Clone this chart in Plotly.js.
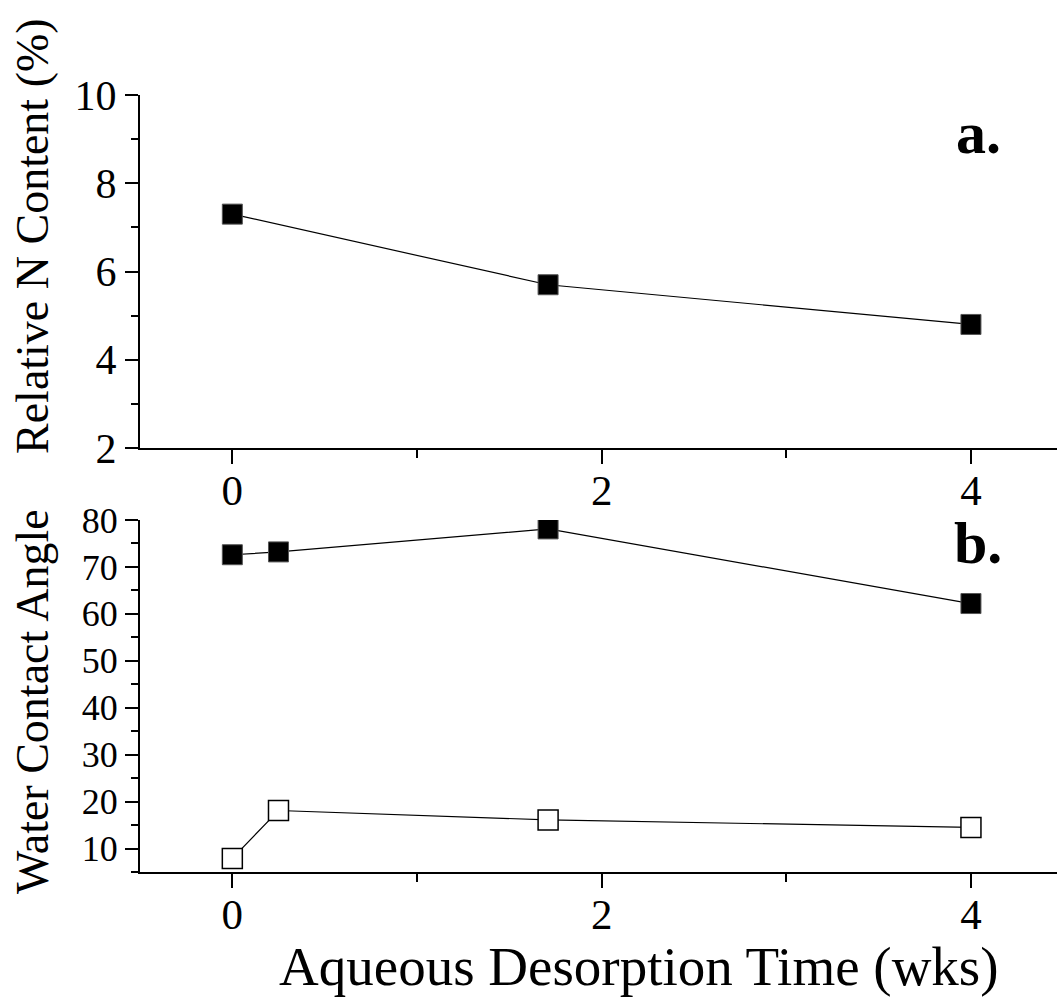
<!DOCTYPE html>
<html>
<head>
<meta charset="utf-8">
<script src="https://cdn.plot.ly/plotly-3.0.1.min.js"></script>
<style>html,body{margin:0;padding:0;background:#fff;}#chart{width:1057px;height:999px;}</style>
</head>
<body>
<div id="chart"></div>
<script>
// Panel a: relative N content
const timeA = [0, 1.71, 4];
const nContent = [7.3, 5.7, 4.8];
// Panel b: water contact angle
const timeB = [0, 0.25, 1.71, 4];
const angleFilled = [72.6, 73.2, 78.1, 62.2];
const angleOpen = [7.9, 18.1, 16.1, 14.5];

const xTitle = "Aqueous Desorption Time (wks)";
const yTitleA = "Relative N Content (%)";
const yTitleB = "Water Contact Angle";
const panelA = "a.";
const panelB = "b.";

const FONT = "Liberation Serif";
const W = 1057, H = 999, L = 140, R = 0;
const px2x = p => (p - L) / (W - L - R);
const px2y = p => 1 - p / H;

const filledMarker = {symbol: 'square', size: 20, color: '#000', line: {color: '#555', width: 1}};
const openMarker = {symbol: 'square', size: 20, color: '#fff', line: {color: '#000', width: 1.5}};
const lineStyle = {color: '#000', width: 1.2};

const traces = [
  {x: timeA, y: nContent, xaxis: 'x', yaxis: 'y', mode: 'lines+markers', marker: filledMarker, line: lineStyle, showlegend: false},
  {x: timeB, y: angleFilled, xaxis: 'x2', yaxis: 'y2', mode: 'lines+markers', marker: filledMarker, line: lineStyle, showlegend: false},
  {x: timeB, y: angleOpen, xaxis: 'x2', yaxis: 'y2', mode: 'lines+markers', marker: openMarker, line: lineStyle, showlegend: false}
];

const xCommon = {
  range: [-0.5, 4.466], domain: [0, 1], tick0: 0, dtick: 2,
  showline: true, linecolor: '#000', linewidth: 2, mirror: false,
  ticks: 'outside', ticklen: 14, tickwidth: 2, tickcolor: '#000',
  minor: {dtick: 1, ticks: 'outside', ticklen: 8, tickwidth: 2, tickcolor: '#000', showgrid: false},
  showgrid: false, zeroline: false, ticklabelstandoff: -11,
  tickfont: {family: FONT, size: 43, color: '#000'}, automargin: false
};

const layout = {
  width: W, height: H,
  font: {family: FONT, color: '#000'},
  margin: {l: L, r: R, t: 0, b: 0},
  paper_bgcolor: '#fff', plot_bgcolor: 'rgba(0,0,0,0)',
  xaxis: Object.assign({}, xCommon, {anchor: 'y'}),
  xaxis2: Object.assign({}, xCommon, {anchor: 'y2'}),
  yaxis: {
    domain: [px2y(448), px2y(95)], range: [2, 10], tick0: 2, dtick: 2,
    showline: true, linecolor: '#000', linewidth: 2,
    ticks: 'outside', ticklen: 13, tickwidth: 2, tickcolor: '#000',
    minor: {dtick: 1, ticks: 'outside', ticklen: 7, tickwidth: 2, tickcolor: '#000', showgrid: false},
    showgrid: false, zeroline: false, anchor: 'x',
    tickfont: {family: FONT, size: 42, color: '#000'}, automargin: false
  },
  yaxis2: {
    domain: [px2y(872), px2y(520)], range: [5, 80], tick0: 0, dtick: 10,
    showline: true, linecolor: '#000', linewidth: 2,
    ticks: 'outside', ticklen: 13, tickwidth: 2, tickcolor: '#000',
    minor: {dtick: 5, ticks: 'outside', ticklen: 7, tickwidth: 2, tickcolor: '#000', showgrid: false},
    showgrid: false, zeroline: false, anchor: 'x2',
    tickfont: {family: FONT, size: 36, color: '#000'}, automargin: false
  },
  annotations: [
    {text: xTitle, xref: 'paper', yref: 'paper', x: px2x(639), y: px2y(966), xanchor: 'center', yanchor: 'middle', showarrow: false, font: {family: FONT, size: 55, color: '#000'}},
    {text: yTitleA, xref: 'paper', yref: 'paper', x: px2x(32), y: px2y(236), xanchor: 'center', yanchor: 'middle', textangle: -90, showarrow: false, font: {family: FONT, size: 46, color: '#000'}},
    {text: yTitleB, xref: 'paper', yref: 'paper', x: px2x(32), y: px2y(702), xanchor: 'center', yanchor: 'middle', textangle: -90, showarrow: false, font: {family: FONT, size: 46, color: '#000'}},
    {text: '<b>' + panelA + '</b>', xref: 'paper', yref: 'paper', x: px2x(978), y: px2y(133), xanchor: 'center', yanchor: 'middle', showarrow: false, font: {family: FONT, size: 60, color: '#000'}},
    {text: '<b>' + panelB + '</b>', xref: 'paper', yref: 'paper', x: px2x(978), y: px2y(543), xanchor: 'center', yanchor: 'middle', showarrow: false, font: {family: FONT, size: 60, color: '#000'}}
  ]
};

Plotly.newPlot('chart', traces, layout, {displayModeBar: false, staticPlot: true});
</script>
</body>
</html>
